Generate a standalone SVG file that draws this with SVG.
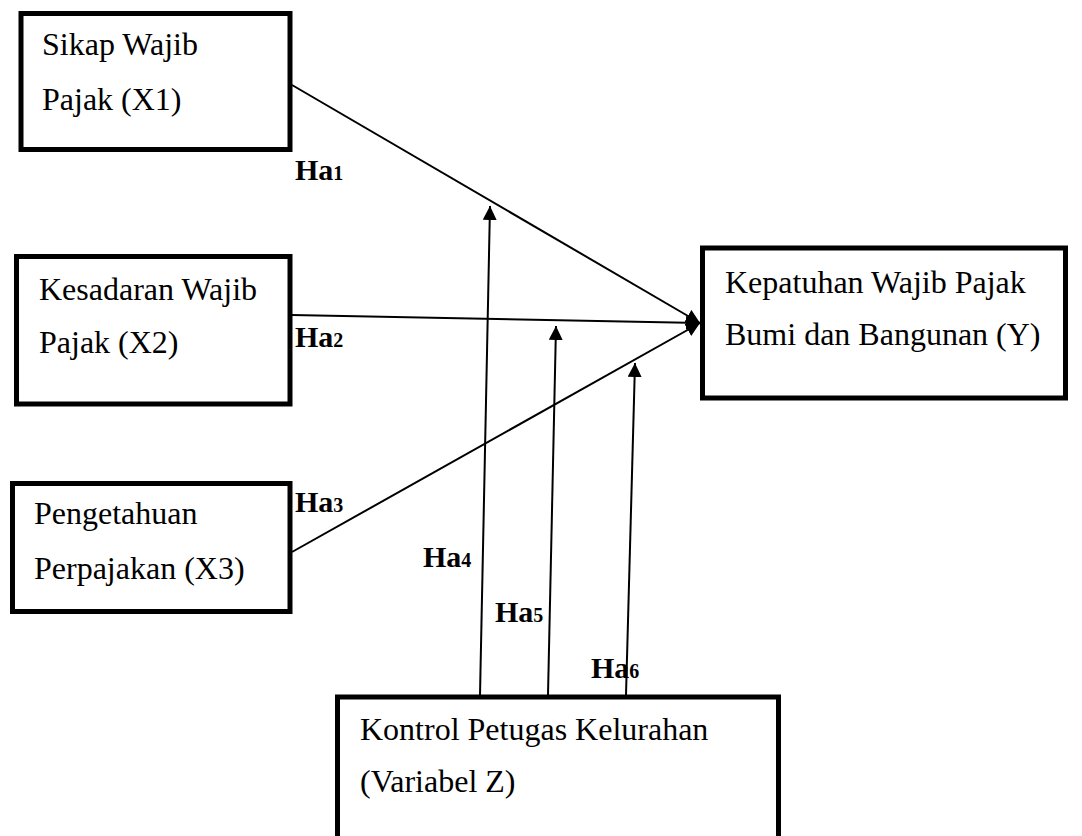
<svg xmlns="http://www.w3.org/2000/svg" width="1082" height="836" viewBox="0 0 1082 836">
<style>
.box{fill:#fff;stroke:#000;stroke-width:5}
.t{font-family:"Liberation Serif","Times New Roman",serif;font-size:32px;fill:#000}
.h{font-family:"Liberation Serif","Times New Roman",serif;font-size:30px;font-weight:bold;fill:#000}
.s{font-size:20px}
.c{stroke:#000;stroke-width:2;fill:none;marker-end:url(#ah)}
</style>
<defs>
<marker id="ah" markerUnits="userSpaceOnUse" markerWidth="15" markerHeight="15" refX="14" refY="7" orient="auto" viewBox="0 0 15 15">
<path d="M0,0 L14,7 L0,14 z" fill="#000"/>
</marker>
</defs>
<rect width="1082" height="836" fill="#fff"/>
<g id="x1">
<rect class="box" x="21" y="13.5" width="269" height="136"/>
<text class="t" x="42" y="55">Sikap Wajib</text>
<text class="t" x="42" y="110">Pajak (X1)</text>
</g>
<g id="x2">
<rect class="box" x="16.5" y="256.5" width="273.5" height="147.5"/>
<text class="t" x="39" y="300">Kesadaran Wajib</text>
<text class="t" x="39" y="353">Pajak (X2)</text>
</g>
<g id="x3">
<rect class="box" x="12.5" y="483.5" width="277.5" height="128"/>
<text class="t" x="34" y="524">Pengetahuan</text>
<text class="t" x="34" y="579">Perpajakan (X3)</text>
</g>
<g id="y">
<rect class="box" x="702.5" y="248" width="363" height="150"/>
<text class="t" x="725" y="293">Kepatuhan Wajib Pajak</text>
<text class="t" x="725" y="345">Bumi dan Bangunan (Y)</text>
</g>
<g id="z">
<rect class="box" x="337.5" y="697" width="441" height="170"/>
<text class="t" x="360" y="740">Kontrol Petugas Kelurahan</text>
<text class="t" x="360" y="792">(Variabel Z)</text>
</g>
<g id="connectors">
<line class="c" x1="292" y1="85" x2="700" y2="323"/>
<line class="c" x1="292" y1="315" x2="700" y2="323"/>
<line class="c" x1="292" y1="552" x2="700" y2="323"/>
<line class="c" x1="480" y1="695" x2="490" y2="206"/>
<line class="c" x1="548" y1="695" x2="556" y2="326"/>
<line class="c" x1="626" y1="695" x2="635" y2="363"/>
</g>
<g id="labels">
<text class="h" x="295" y="180">Ha<tspan class="s">1</tspan></text>
<text class="h" x="295" y="347">Ha<tspan class="s">2</tspan></text>
<text class="h" x="295" y="512">Ha<tspan class="s">3</tspan></text>
<text class="h" x="423" y="567">Ha<tspan class="s">4</tspan></text>
<text class="h" x="495" y="622">Ha<tspan class="s">5</tspan></text>
<text class="h" x="591" y="678">Ha<tspan class="s">6</tspan></text>
</g>
</svg>
